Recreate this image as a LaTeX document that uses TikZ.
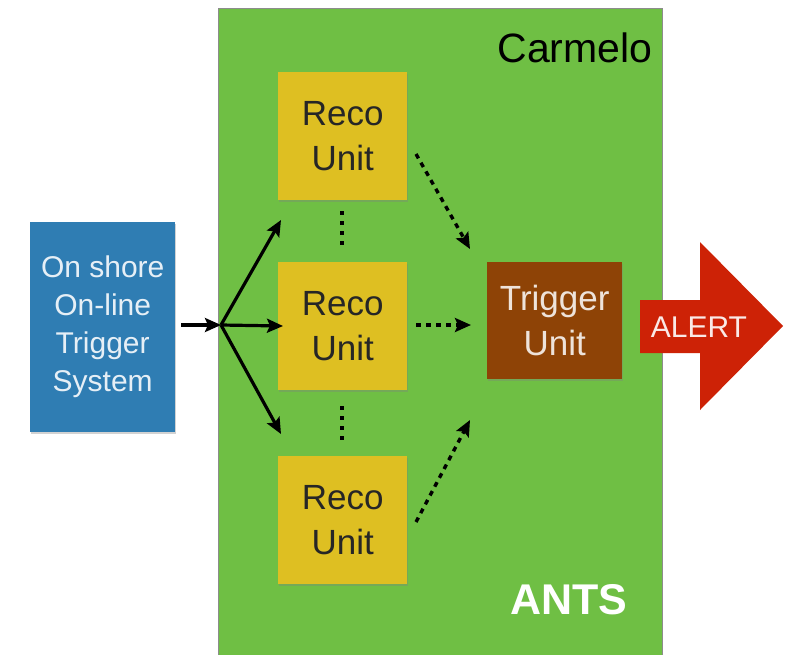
\documentclass[tikz,border=0pt]{standalone}
\usepackage{fontspec}
\setmainfont{Liberation Sans}
\usetikzlibrary{arrows.meta,shapes.arrows,shadows}
\definecolor{antsgreen}{HTML}{6FBF44}
\definecolor{shoreblue}{HTML}{2F7DB3}
\definecolor{recoyellow}{HTML}{DEBF22}
\definecolor{trigbrown}{HTML}{8E4306}
\definecolor{alertred}{HTML}{CD2206}
\begin{document}
\begin{tikzpicture}[x=1pt,y=-1pt,
  box/.style={draw=none,anchor=north west,inner sep=0pt,align=center,
    drop shadow={shadow xshift=1pt,shadow yshift=-2pt,opacity=0.35}},
  recobox/.style={box,fill=recoyellow,minimum width=129pt,minimum height=128pt,
    font=\fontsize{35}{45}\selectfont,text=black!85},
  solidarrow/.style={line width=3.2pt,-{Stealth[length=16pt,width=14pt,inset=3pt]}},
  dasharrow/.style={line width=3.4pt,dash pattern=on 5pt off 5pt,-{Stealth[length=16pt,width=14pt,inset=3pt]}},
  dotline/.style={line width=3.4pt,dash pattern=on 4pt off 6pt}]
\useasboundingbox (0,0) rectangle (788,654);
\fill[white] (0,0) rectangle (788,654);
% ANTS container
\node[draw=black!45,line width=1.2pt,fill=antsgreen,anchor=north west,minimum width=444pt,minimum height=660pt,inner sep=0pt] (ants) at (218,8) {};
\node[anchor=base east,font=\fontsize{41}{41}\selectfont,text=black] (carmelo) at (656,62) {Carmelo};
\node[anchor=base east,font=\fontsize{43}{43}\selectfont\bfseries,text=white] (antslabel) at (631,614) {ANTS};
% on shore
\node[box,fill=shoreblue,minimum width=145pt,minimum height=210pt,font=\fontsize{30}{38}\selectfont,text=white!88!shoreblue] (shore) at (30,222) {On shore\\On-line\\Trigger\\System};
% reco units
\node[recobox] (reco1) at (278,72) {Reco\\Unit};
\node[recobox] (reco2) at (278,262) {Reco\\Unit};
\node[recobox] (reco3) at (278,456) {Reco\\Unit};
% trigger
\node[box,fill=trigbrown,minimum width=135pt,minimum height=117pt,font=\fontsize{35}{45}\selectfont,text=white!85!trigbrown] (trig) at (487,262) {Trigger\\Unit};
% alert arrow
\fill[alertred] (640,300) -- (700,300) -- (700,242) -- (783,326) -- (700,410) -- (700,353) -- (640,353) -- cycle;
\node[font=\fontsize{30}{30}\selectfont,text=white!90!alertred] (alert) at (699,327) {ALERT};
% connectors
\coordinate (s0) at (181,325);
\coordinate (split) at (221,325);
\coordinate (t1) at (281,220);
\coordinate (t2) at (283,326);
\coordinate (t3) at (281,434);
\draw[solidarrow] (s0) -- (split);
\draw[solidarrow] (split) -- (t1);
\draw[solidarrow] (split) -- (t2);
\draw[solidarrow] (split) -- (t3);
\coordinate (d1a) at (342,211);
\coordinate (d1b) at (342,246);
\coordinate (d2a) at (342,406);
\coordinate (d2b) at (342,441);
\draw[dotline] (d1a) -- (d1b);
\draw[dotline] (d2a) -- (d2b);
\coordinate (r1) at (416,154);
\coordinate (r2) at (416,325);
\coordinate (r3) at (416,522);
\coordinate (g1) at (470,249);
\coordinate (g2) at (471,325);
\coordinate (g3) at (470,420);
\draw[dasharrow] (r1) -- (g1);
\draw[dasharrow] (r2) -- (g2);
\draw[dasharrow] (r3) -- (g3);
\end{tikzpicture}
\end{document}
